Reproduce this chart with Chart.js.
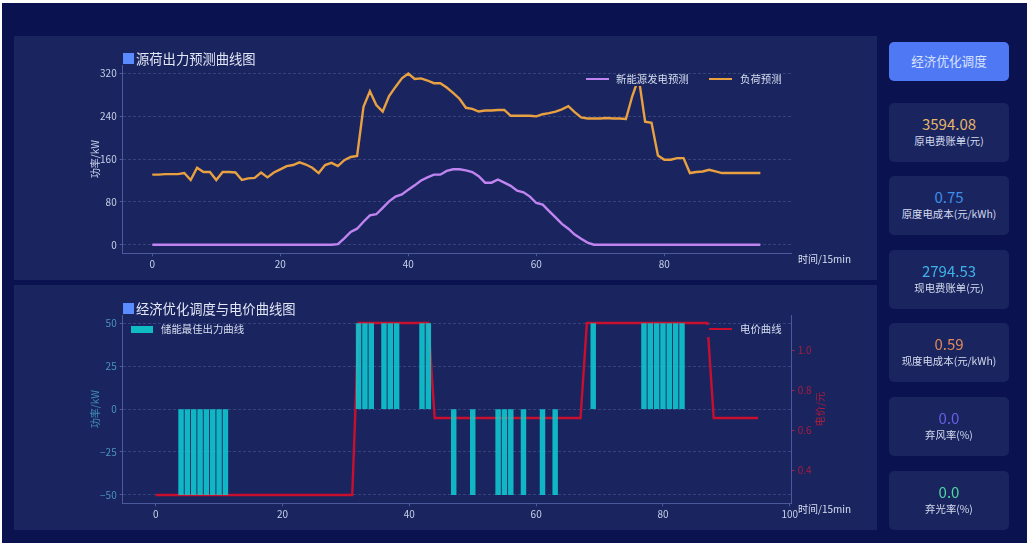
<!DOCTYPE html>
<html>
<head>
<meta charset="utf-8">
<script src="https://cdn.jsdelivr.net/npm/chart.js@4"></script>
<style>
html,body{margin:0;padding:0;width:1029px;height:546px;overflow:hidden;background:#fff;font-family:"Noto Sans CJK SC",sans-serif;color:#dfe5f5;}
.page{position:absolute;left:2px;top:3px;width:1025px;height:540px;background:#0a1350;}
.panel{position:absolute;left:14px;width:863px;background:#1a2560;}
canvas{position:absolute;left:0;top:0;}
.abs{position:absolute;white-space:nowrap;line-height:1;}
.square{position:absolute;left:123px;width:11px;height:11px;background:#5b8cff;}
.title{font-size:13.3px;left:136px;color:#e2e7f5;}
.legend{position:absolute;background:#1a2560;}
.legend span{position:absolute;top:-1.5px;font-size:10.4px;line-height:11px;color:#d8dff0;white-space:nowrap;}
.legend i{position:absolute;height:2.4px;top:3px;width:23px;}
.unit{font-size:10px;left:798px;color:#d8dff0;}
.btn{position:absolute;left:889px;top:42px;width:120px;height:39px;border-radius:5px;background:#4f78f5;color:#dbe4ff;font-size:12.6px;text-align:center;line-height:37px;}
.card{position:absolute;left:889px;width:120px;height:59px;border-radius:5px;background:#1a2560;text-align:center;}
.card b{position:absolute;left:0;right:0;top:13px;font-weight:400;font-size:15px;line-height:16px;}
.card em{position:absolute;left:0;right:0;top:32px;font-style:normal;font-size:10.4px;line-height:12px;color:#d5dbee;}
</style>
</head>
<body>
<div class="page"></div>
<div class="panel" style="top:36px;height:244px;"><canvas id="chart1" width="863" height="244"></canvas></div>
<div class="panel" style="top:285px;height:245px;"><canvas id="chart2" width="863" height="245"></canvas></div>

<div class="square" style="top:53px;"></div>
<div class="abs title" style="top:52px;">源荷出力预测曲线图</div>
<div class="square" style="top:303px;"></div>
<div class="abs title" style="top:301.5px;">经济优化调度与电价曲线图</div>

<div class="legend" style="left:580px;top:74.5px;width:208px;height:11px;">
  <i style="left:6px;background:#c084f0;"></i><span style="left:36px;">新能源发电预测</span>
  <i style="left:129px;background:#e8a040;"></i><span style="left:160px;">负荷预测</span>
</div>
<div class="legend" style="left:127px;top:324.5px;width:125px;height:12px;">
  <i style="left:4px;width:22px;height:7px;top:1px;background:#10bcc4;"></i><span style="left:34px;">储能最佳出力曲线</span>
</div>
<div class="legend" style="left:706px;top:324.5px;width:82px;height:12px;">
  <i style="left:3px;background:#c8102e;"></i><span style="left:34px;">电价曲线</span>
</div>

<div class="abs unit" style="top:254px;">时间/15min</div>
<div class="abs unit" style="top:504px;">时间/15min</div>
<div class="abs" style="left:800px;top:404px;width:40px;text-align:center;font-size:10.2px;color:#a81c3c;transform:rotate(-90deg);">电价/元</div>

<div class="btn">经济优化调度</div>
<div class="card" style="top:103px;"><b style="color:#e6b566;">3594.08</b><em>原电费账单(元)</em></div>
<div class="card" style="top:176px;"><b style="color:#3f8fe8;">0.75</b><em>原度电成本(元/kWh)</em></div>
<div class="card" style="top:250px;"><b style="color:#3fb2e8;">2794.53</b><em>现电费账单(元)</em></div>
<div class="card" style="top:323px;"><b style="color:#e08a5a;">0.59</b><em>现度电成本(元/kWh)</em></div>
<div class="card" style="top:397px;"><b style="color:#6a5fe6;">0.0</b><em>弃风率(%)</em></div>
<div class="card" style="top:471px;"><b style="color:#4fd9a0;">0.0</b><em>弃光率(%)</em></div>

<script>
// 96 points, one every 15 min
let time = [];
for (let i = 0; i < 96; i++) time.push(i);

let newEnergy = [0,0,0,0,0,0,0,0,0,0,0,0,0,0,0,0,0,0,0,0,0,0,0,0,0,0,0,0,0,1,12,24,30,43,55,57,69,81,90,94,
  103,111,120,126,131,131,138,141,141,139,136,128,116,116,122,116,110,101,98,90,78,75,63,51,39,30,19,11,4,0,
  0,0,0,0,0,0,0,0,0,0,0,0,0,0,0,0,0,0,0,0,0,0,0,0,0,0];

let load = [131,131,132,132,132,134,121,144,136,136,121,136,136,135,121,124,125,135,126,135,141,147,149,154,150,144,134,149,153,147,
  158,164,166,258,287,261,249,278,295,311,320,310,311,307,302,302,294,284,273,256,254,249,251,251,252,252,241,241,241,241,
  240,244,246,249,253,259,248,238,236,236,236,237,236,236,235,278,312,230,228,167,159,159,162,162,134,136,137,140,137,134,
  134,134,134,134,134,134];

// null = no charge or discharge in that interval
let storage = [null,null,null,null,-50,-50,-50,-50,-50,-50,-50,-50,null,null,null,null,null,null,null,null,null,null,null,null,null,null,null,null,null,null,
  null,null,50,50,50,null,50,50,50,null,null,null,50,50,null,null,null,-50,null,null,-50,null,null,null,-50,-50,-50,null,-50,null,
  null,-50,null,-50,null,null,null,null,null,50,null,null,null,null,null,null,null,50,50,50,50,50,50,50,null,null,null,null,null,null,
  null,null,null,null,null,null];

let price = [0.275,0.275,0.275,0.275,0.275,0.275,0.275,0.275,0.275,0.275,0.275,0.275,0.275,0.275,0.275,0.275,0.275,0.275,0.275,0.275,
  0.275,0.275,0.275,0.275,0.275,0.275,0.275,0.275,0.275,0.275,0.275,0.275,1.135,1.135,1.135,1.135,1.135,1.135,1.135,1.135,
  1.135,1.135,1.135,1.135,0.66,0.66,0.66,0.66,0.66,0.66,0.66,0.66,0.66,0.66,0.66,0.66,0.66,0.66,0.66,0.66,
  0.66,0.66,0.66,0.66,0.66,0.66,0.66,0.66,1.135,1.135,1.135,1.135,1.135,1.135,1.135,1.135,1.135,1.135,1.135,1.135,
  1.135,1.135,1.135,1.135,1.135,1.135,1.135,1.135,0.66,0.66,0.66,0.66,0.66,0.66,0.66,0.66];

let fontName = '"Noto Sans CJK SC", sans-serif';
let tickText = '#c8d0e8';
let spine = '#4a5a9c';
let gridColor = 'rgba(170,185,230,0.2)';

function fixWidth(w) { return function (s) { s.width = w; }; }
function fixHeight(h) { return function (s) { s.height = h; }; }

// x axis shared by both charts
function xAxis(min, max) {
    return {
        type: 'linear', min: min, max: max,
        offset: false,
        afterFit: fixHeight(22),
        grid: { offset: false, drawOnChartArea: false, tickLength: 3, tickColor: spine },
        border: { color: spine },
        ticks: { stepSize: 20, includeBounds: false, maxRotation: 0, padding: 2, color: tickText, font: { family: fontName, size: 10 } }
    };
}

function minusSign(v) { return String(v).replace('-', '\u2212'); }

new Chart(document.getElementById('chart1').getContext('2d'), {
    type: 'line',
    data: {
        labels: time,
        datasets: [
            { label: '新能源发电预测', data: newEnergy, borderColor: '#c084f0', borderWidth: 2.4, pointRadius: 0, tension: 0 },
            { label: '负荷预测', data: load, borderColor: '#e8a040', borderWidth: 2.4, pointRadius: 0, tension: 0 }
        ]
    },
    options: {
        responsive: false,
        animation: false,
        layout: { padding: { left: 75, right: 85.3, top: 29, bottom: 4.7 } },
        plugins: { legend: { display: false } },
        scales: {
            x: xAxis(-4.62, 99.9),
            y: {
                min: -16, max: 336,
                afterFit: fixWidth(33.7),
                title: { display: true, text: '功率/kW', color: tickText, padding: 0, font: { family: fontName, size: 10 } },
                grid: { color: gridColor, tickLength: 3, tickColor: spine },
                border: { color: spine, dash: [3, 2] },
                ticks: { stepSize: 80, includeBounds: false, padding: 3, color: tickText, font: { family: fontName, size: 10 } }
            }
        }
    }
});

new Chart(document.getElementById('chart2').getContext('2d'), {
    data: {
        labels: time,
        datasets: [
            { type: 'bar', label: '储能最佳出力曲线', data: storage, yAxisID: 'y', backgroundColor: 'rgba(15,205,210,0.87)', barThickness: 4.8, order: 1 },
            { type: 'line', label: '电价曲线', data: price, yAxisID: 'y1', borderColor: '#c8102e', borderWidth: 2.4, pointRadius: 0, tension: 0, order: 2 }
        ]
    },
    options: {
        responsive: false,
        animation: false,
        layout: { padding: { left: 75, right: 55.3, top: 30, bottom: 4.7 } },
        plugins: { legend: { display: false } },
        scales: {
            x: xAxis(-5.2, 100.3),
            y: {
                position: 'left',
                min: -55, max: 55,
                afterFit: fixWidth(33.7),
                title: { display: true, text: '功率/kW', color: '#3f8fb5', padding: 0, font: { family: fontName, size: 10 } },
                grid: { color: gridColor, tickLength: 3, tickColor: spine },
                border: { color: spine, dash: [3, 2] },
                ticks: { stepSize: 25, includeBounds: false, padding: 3, color: '#4a93bd', font: { family: fontName, size: 10 }, callback: minusSign }
            },
            y1: {
                position: 'right',
                min: 0.2335, max: 1.175,
                afterFit: fixWidth(30),
                grid: { drawOnChartArea: false, tickLength: 3, tickColor: '#a81c3c' },
                border: { color: spine },
                ticks: { stepSize: 0.2, includeBounds: false, padding: 3, color: '#a81c3c', font: { family: fontName, size: 10 }, callback: function (v) { return v.toFixed(1); } }
            }
        }
    }
});
</script>
</body>
</html>
